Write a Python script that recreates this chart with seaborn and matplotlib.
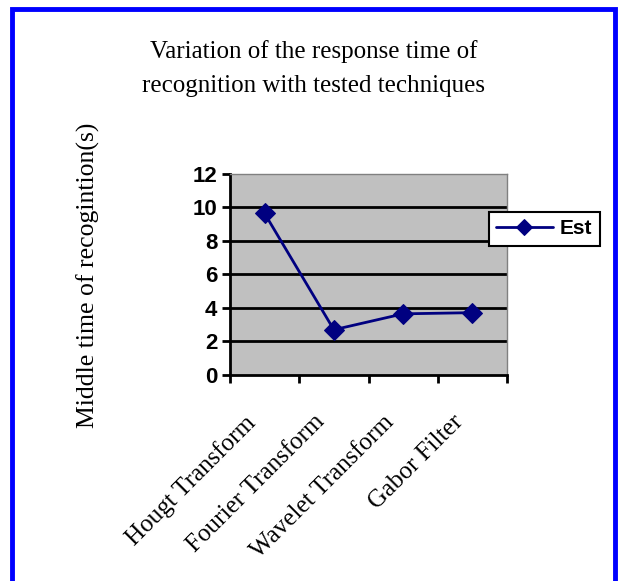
import numpy as np
import pandas as pd
import matplotlib
matplotlib.use("Agg")
import matplotlib.pyplot as plt
import matplotlib.transforms as mtransforms
from matplotlib.patches import Rectangle
import seaborn as sns

# Values
techniques = ["Hougt Transform", "Fourier Transform", "Wavelet Transform", "Gabor Filter"]
est_times = [9.65, 2.7, 3.65, 3.72]
y_ticks = [0, 2, 4, 6, 8, 10, 12]

df = pd.DataFrame({"technique": techniques, "time": est_times})

sns.set_style("white", {"text.color": "black", "xtick.color": "black",
                        "ytick.color": "black"})
plt.rcParams["font.family"] = ["Liberation Sans", "DejaVu Sans"]
serif = ["Liberation Serif", "DejaVu Serif"]

fig = plt.figure(figsize=(6.23, 5.81), dpi=100)
ax = fig.add_axes([0.369, 0.3546, 0.445, 0.346])
ax.set_facecolor("#C0C0C0")

x_pos = np.arange(len(techniques))
sns.lineplot(x=x_pos, y=df["time"], ax=ax, color="#000080", linewidth=2,
             marker="D", markersize=10, markeredgecolor="#000080",
             label="Est", legend=False)

ax.set_xlim(-0.5, len(techniques) - 0.5)
ax.set_ylim(0, 12)
ax.set_ylabel("")
ax.set_xlabel("")

# horizontal grid lines
for v in y_ticks[1:-1]:
    ax.axhline(v, color="black", linewidth=2, zorder=0.5)

for side in ["top", "right"]:
    ax.spines[side].set_color("#808080")
    ax.spines[side].set_linewidth(1)
for side in ["left", "bottom"]:
    ax.spines[side].set_color("black")
    ax.spines[side].set_linewidth(2)

ax.set_yticks(y_ticks)
ax.set_yticklabels([str(v) for v in y_ticks], fontsize=16, fontweight="bold")
ax.tick_params(axis="y", length=6, width=2, direction="out", pad=3, left=True)

ax.set_xticks(np.arange(-0.5, len(techniques), 1.0))
ax.set_xticklabels([])
ax.tick_params(axis="x", which="major", length=6, width=2, direction="out", bottom=True)
ax.set_xticks(x_pos, minor=True)
ax.set_xticklabels(techniques, minor=True, rotation=45, ha="right", va="top",
                   rotation_mode="anchor", family=serif, fontsize=18)
ax.tick_params(axis="x", which="minor", length=0, pad=18)
shift = mtransforms.ScaledTranslation(-0.20, -0.11, fig.dpi_scale_trans)
for lbl in ax.get_xticklabels(minor=True):
    lbl.set_transform(lbl.get_transform() + shift)

fig.text(0.503, 0.882, "Variation of the response time of\nrecognition with tested techniques",
         ha="center", va="center", fontsize=18, linespacing=1.75, family=serif)
fig.text(0.141, 0.527, "Middle time of recogintion(s)", rotation=90,
         ha="center", va="center", fontsize=18.5, family=serif)

leg = fig.legend(handles=ax.get_lines()[:1], labels=["Est"], loc="center left",
                 bbox_to_anchor=(0.785, 0.606), frameon=True, fancybox=False,
                 prop={"family": "Liberation Sans", "weight": "bold", "size": 15},
                 handlelength=2.7, borderpad=0.35, handletextpad=0.35,
                 borderaxespad=0, markerscale=0.8)
leg.get_frame().set_edgecolor("black")
leg.get_frame().set_linewidth(1.5)
leg.get_frame().set_facecolor("white")
leg.get_frame().set_alpha(1)

# blue frame around the whole chart
fig.patches.append(Rectangle((12 / 623, -0.05), 603 / 623, 1 - 9 / 581 + 0.05,
                             transform=fig.transFigure, fill=False,
                             edgecolor="#0000FF", linewidth=3.5, zorder=10))

fig.savefig("out.png", dpi=100)
